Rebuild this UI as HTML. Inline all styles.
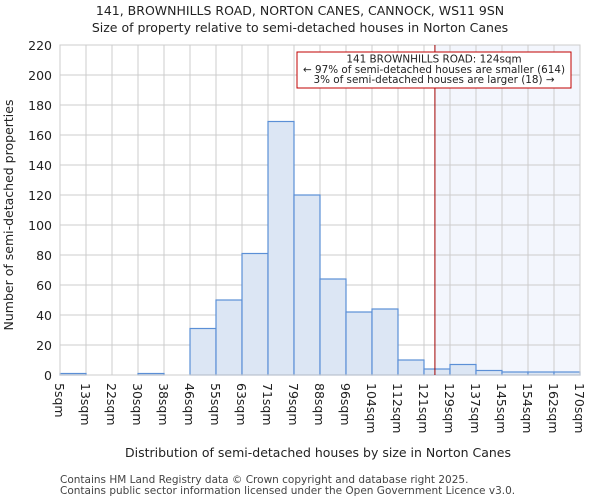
<!DOCTYPE html>
<html><head><meta charset="utf-8"><style>
body{margin:0;background:#fff;font-family:"DejaVu Sans","Liberation Sans",sans-serif;}
svg text{font-family:"DejaVu Sans","Liberation Sans",sans-serif;fill:#222;}
</style></head><body>
<svg id="chart" width="600" height="500" xmlns="http://www.w3.org/2000/svg">
<text x="300" y="15" text-anchor="middle" font-size="12.5">141, BROWNHILLS ROAD, NORTON CANES, CANNOCK, WS11 9SN</text>
<text x="300" y="32" text-anchor="middle" font-size="12.5">Size of property relative to semi-detached houses in Norton Canes</text>
<g id="plot"></g>
<text x="318" y="457" text-anchor="middle" font-size="12.5">Distribution of semi-detached houses by size in Norton Canes</text>
<text transform="translate(13,215) rotate(-90)" text-anchor="middle" font-size="12.5">Number of semi-detached properties</text>
<text x="60" y="483" font-size="10.5" style="fill:#444">Contains HM Land Registry data © Crown copyright and database right 2025.</text>
<text x="60" y="494" font-size="10.5" style="fill:#444">Contains public sector information licensed under the Open Government Licence v3.0.</text>
</svg>
<script>
const categories=["5sqm","13sqm","22sqm","30sqm","38sqm","46sqm","55sqm","63sqm","71sqm","79sqm","88sqm","96sqm","104sqm","112sqm","121sqm","129sqm","137sqm","145sqm","154sqm","162sqm","170sqm"];
const counts=[1,0,0,1,0,31,50,81,169,120,64,42,44,10,4,7,3,2,2,2];
const yTicks=[0,20,40,60,80,100,120,140,160,180,200,220];
const markerBin=14.42;
const NS="http://www.w3.org/2000/svg";
const L=60,R=580,T=45,B=375,yMax=220;
const xs=i=>L+i*(R-L)/counts.length;
const ys=v=>B-v*(B-T)/yMax;
const g=document.getElementById('plot');
function mk(t,a){const e=document.createElementNS(NS,t);for(const k in a)e.setAttribute(k,a[k]);g.appendChild(e);return e;}
const mx=xs(markerBin);
let sh=mk('rect',{x:mx,y:T,width:R-mx,height:B-T,fill:'#f3f6fd'});


yTicks.forEach(v=>{
 const l=mk('line',{x1:L,x2:R,y1:ys(v),y2:ys(v),stroke:'#ccc','stroke-width':1});
 
 
 const t=mk('text',{x:L-8,y:ys(v)+5,'text-anchor':'end','font-size':12.5});
 t.textContent=v;
 
 
});
categories.forEach((c,i)=>{
 const x=xs(i);
 const l=mk('line',{x1:x,x2:x,y1:T,y2:B,stroke:'#ccc','stroke-width':1});
 
 
 const t=mk('text',{transform:`translate(${x-5},383) rotate(90)`,'font-size':12.5});
 t.textContent=c;
 
 
});
counts.forEach((v,i)=>{
 if(v<=0)return;
 const r=mk('rect',{x:xs(i),y:ys(v),width:xs(i+1)-xs(i),height:B-ys(v),fill:'#dce6f4',stroke:'#5b8fd6','stroke-width':1.2});
 
 
});
const ax=mk('rect',{x:L,y:T,width:R-L,height:B-T,fill:'none',stroke:'#ccc','stroke-width':1});


const ml=mk('line',{x1:mx,x2:mx,y1:T,y2:B,stroke:'#a00000','stroke-width':1});


const box=mk('rect',{x:297,y:52,width:274,height:36,fill:'#fff',stroke:'#c00000','stroke-width':1});


["141 BROWNHILLS ROAD: 124sqm","← 97% of semi-detached houses are smaller (614)","3% of semi-detached houses are larger (18) →"].forEach((s,k)=>{
 const t=mk('text',{x:434,y:62.5+k*10.3,'text-anchor':'middle','font-size':10.4});
 t.textContent=s;
 
 
});
</script>
</body></html>
